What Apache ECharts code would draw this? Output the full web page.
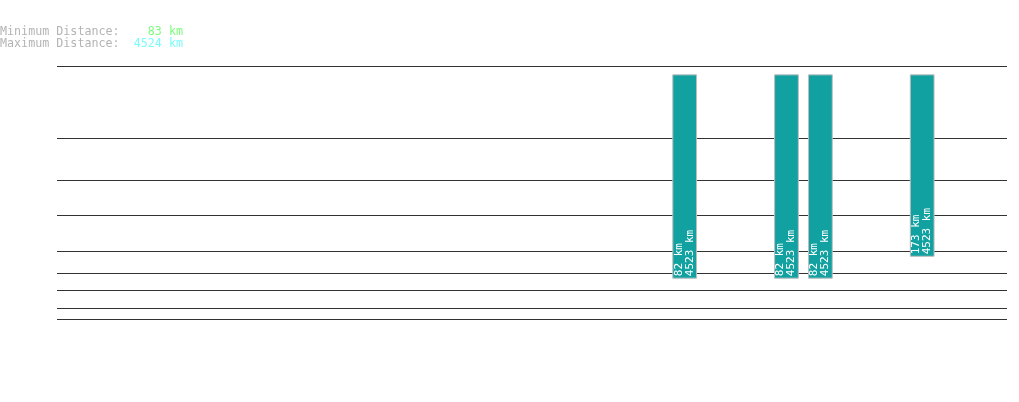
<!DOCTYPE html>
<html>
<head>
<meta charset="utf-8">
<script src="https://cdn.jsdelivr.net/npm/echarts@6/dist/echarts.min.js"></script>
<style>
  html, body { margin: 0; padding: 0; background: #fff; }
  #chart { width: 1019px; height: 402px; }
</style>
</head>
<body>
<div id="chart"></div>
<script>
// 数据
const slotCount = 28
const barSlots = [18, 21, 22, 25]
const minKm = [82, 82, 82, 173]
const maxKm = [4523, 4523, 4523, 4523]
const gridValues = [10, 20, 50, 100, 200, 500, 1000, 2000, 5000]
const summaryMin = 83
const summaryMax = 4524

// 幂次刻度 (exponent 0.3)
const EXP = 0.3
const pw = (v) => Math.pow(v, EXP)

const chart = echarts.init(document.getElementById('chart'))

const categories = Array.from({ length: slotCount }, (_, i) => String(i))
const barData = barSlots.map((s, i) => [s, pw(minKm[i]), pw(maxKm[i]), minKm[i], maxKm[i]])

const mono = '"DejaVu Sans Mono", "Liberation Mono", monospace'

const renderBar = (params, api) => {
  const x = api.value(0)
  const top = api.coord([x, api.value(2)])
  const bot = api.coord([x, api.value(1)])
  const w = api.size([1, 0])[0] * 0.7
  return {
    type: 'group',
    children: [
      {
        type: 'rect',
        shape: { x: top[0] - w / 2, y: top[1], width: w, height: bot[1] - top[1] },
        style: { fill: '#12a1a1', stroke: '#bdbdbd', lineWidth: 1 }
      },
      {
        type: 'text',
        x: top[0] - 0.5,
        y: bot[1] - 2,
        rotation: Math.PI / 2,
        style: {
          text: api.value(3) + ' km\n' + api.value(4) + ' km',
          fill: '#ffffff',
          font: '11px ' + mono,
          lineHeight: 11,
          align: 'left',
          verticalAlign: 'middle'
        }
      }
    ]
  }
}

chart.setOption({
  animation: false,
  title: {
    left: 0,
    top: 26,
    padding: 0,
    text: '{a|Minimum Distance:}    {b|' + summaryMin + ' km}\n{a|Maximum Distance:}  {c|' + summaryMax + ' km}',
    textStyle: {
      fontFamily: mono,
      fontSize: 11.7,
      fontWeight: 'normal',
      lineHeight: 12,
      rich: {
        a: { color: '#b4b4b4', fontFamily: mono, fontSize: 11.7, lineHeight: 12 },
        b: { color: '#7dfc7d', fontFamily: mono, fontSize: 11.7, lineHeight: 12 },
        c: { color: '#7dfcfc', fontFamily: mono, fontSize: 11.7, lineHeight: 12 }
      }
    }
  },
  grid: { left: 57, right: 12, top: 66, bottom: 83 },
  xAxis: {
    type: 'category',
    data: categories,
    show: false
  },
  yAxis: {
    type: 'value',
    min: pw(gridValues[0]),
    max: pw(gridValues[gridValues.length - 1]),
    show: false,
    splitLine: { show: false }
  },
  series: [
    {
      // 网格线
      type: 'line',
      data: [],
      z: 1,
      markLine: {
        silent: true,
        symbol: 'none',
        label: { show: false },
        lineStyle: { color: '#333333', width: 1, type: 'solid' },
        data: gridValues.map((v) => ({ yAxis: pw(v) }))
      }
    },
    {
      type: 'custom',
      renderItem: renderBar,
      data: barData,
      z: 5
    }
  ]
})

window.addEventListener('resize', () => chart.resize())
</script>
</body>
</html>
